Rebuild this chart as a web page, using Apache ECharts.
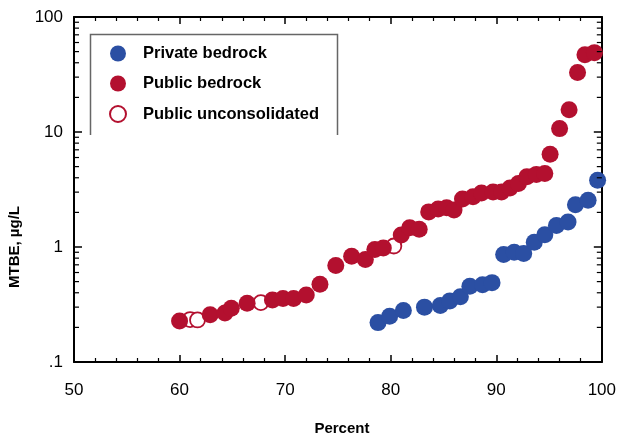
<!DOCTYPE html>
<html>
<head>
<meta charset="utf-8">
<script src="https://cdn.jsdelivr.net/npm/echarts@6/dist/echarts.min.js"></script>
<style>
  html, body { margin: 0; padding: 0; background: #fff; }
  #chart { width: 619px; height: 441px; }
</style>
</head>
<body>
<div id="chart"></div>
<script>
// ---- Data ----
const privateX = [78.8, 79.9, 81.2, 83.2, 84.7, 85.6, 86.6, 87.5, 88.7, 89.6, 90.7, 91.7, 92.6, 93.6, 94.6, 95.7, 96.8, 97.5, 98.7, 99.6];
const privateY = [0.22, 0.25, 0.28, 0.30, 0.31, 0.34, 0.37, 0.455, 0.47, 0.49, 0.86, 0.90, 0.88, 1.10, 1.28, 1.54, 1.65, 2.33, 2.55, 3.8];

const publicX = [60.0, 62.9, 64.3, 64.9, 66.4, 68.8, 69.8, 70.8, 72.0, 73.3, 74.8, 76.3, 77.6, 78.5, 79.3,
                 81.0, 81.8, 82.7, 83.6, 84.5, 85.3, 86.0, 86.8, 87.8, 88.6, 89.7, 90.5, 91.3, 92.1, 92.9,
                 93.8, 94.6, 95.1, 96.0, 96.9, 97.7, 98.4, 99.3];
const publicY = [0.227, 0.257, 0.267, 0.294, 0.324, 0.346, 0.357, 0.357, 0.382, 0.475, 0.69, 0.83, 0.78, 0.95, 0.98,
                 1.27, 1.47, 1.43, 2.02, 2.14, 2.19, 2.10, 2.62, 2.74, 2.95, 3.01, 3.01, 3.26, 3.56, 4.08,
                 4.28, 4.36, 6.4, 10.7, 15.6, 32.9, 47, 49];

const unconsX = [61.0, 61.7, 67.7, 80.3];
const unconsY = [0.234, 0.232, 0.328, 1.02];

const xTicks = [50, 60, 70, 80, 90, 100];
const yTickLabels = {0.1: '.1', 1: '1', 10: '10', 100: '100'};
const yMinorTicks = [0.2, 0.3, 0.4, 0.5, 0.6, 0.7, 0.8, 0.9,
                     2, 3, 4, 5, 6, 7, 8, 9,
                     20, 30, 40, 50, 60, 70, 80, 90];

const seriesNames = ['Private bedrock', 'Public bedrock', 'Public unconsolidated'];
const xTitle = 'Percent';
const yTitle = 'MTBE, µg/L';

// ---- Styles ----
const BLUE = '#2b4fa3';
const RED = '#b3102f';
const FONT = 'Liberation Sans, Arial, sans-serif';

const zip = (xs, ys) => xs.map((x, i) => [x, ys[i]]);

const chart = echarts.init(document.getElementById('chart'), null, { renderer: 'canvas' });

const axisLineStyle = { color: '#000', width: 2 };
const baseX = {
  type: 'value', min: xTicks[0], max: xTicks[xTicks.length - 1], interval: 10,
  axisLine: { show: true, onZero: false, lineStyle: axisLineStyle },
  axisTick: { show: true, inside: true, length: 7, lineStyle: { color: '#000', width: 1.5 } },
  minorTick: { show: true, splitNumber: 5, length: 4, lineStyle: { color: '#000', width: 1.2 } },
  splitLine: { show: false }
};
const baseY = {
  type: 'log', logBase: 10, min: 0.1, max: 100,
  axisLine: { show: true, onZero: false, lineStyle: axisLineStyle },
  axisTick: { show: true, inside: true, length: 8, lineStyle: { color: '#000', width: 1.5 } },
  minorTick: { show: false },
  splitLine: { show: false }
};

const option = {
  animation: false,
  backgroundColor: '#fff',
  textStyle: { fontFamily: FONT },
  grid: { left: 74, right: 17, top: 17, bottom: 69, containLabel: false },
  xAxis: [
    Object.assign({}, baseX, {
      position: 'bottom',
      name: xTitle, nameLocation: 'middle', nameGap: 59,
      nameTextStyle: { fontFamily: FONT, fontWeight: 'bold', fontSize: 15, color: '#000', padding: [0, 0, 0, 8] },
      axisLabel: { show: true, margin: 20, fontFamily: FONT, fontSize: 17, color: '#000' }
    }),
    Object.assign({}, baseX, { position: 'top', axisLabel: { show: false } })
  ],
  yAxis: [
    Object.assign({}, baseY, {
      position: 'left',
      axisLabel: {
        show: true, margin: 11, fontFamily: FONT, fontSize: 17, color: '#000',
        formatter: v => {
          for (const k in yTickLabels) { if (Math.abs(v - Number(k)) < 1e-9 * Number(k)) return yTickLabels[k]; }
          return '';
        }
      }
    }),
    Object.assign({}, baseY, { position: 'right', axisLabel: { show: false } })
  ],
  legend: {
    data: seriesNames,
    orient: 'vertical',
    left: 104, top: 40,
    itemWidth: 16, itemHeight: 16,
    itemGap: 13,
    icon: 'circle',
    selectedMode: false,
    textStyle: { fontFamily: FONT, fontWeight: 'bold', fontSize: 16.5, color: '#000', padding: [0, 0, 0, 12] }
  },
  graphic: [
    {
      type: 'polyline', silent: true, z: 10,
      shape: { points: [[90.5, 135], [90.5, 34.5], [337.5, 34.5], [337.5, 135]] },
      style: { stroke: '#666', lineWidth: 1.5, fill: null }
    },
    {
      type: 'text', silent: true, z: 10,
      x: 15, y: 247, rotation: Math.PI / 2,
      style: { text: yTitle, font: 'bold 15px ' + FONT, fill: '#000', align: 'center', verticalAlign: 'middle' }
    }
  ],
  series: [
    {
      name: seriesNames[2], type: 'scatter', z: 2,
      symbol: 'circle', symbolSize: 15,
      itemStyle: { color: '#fff', borderColor: RED, borderWidth: 1.8, opacity: 1 },
      data: zip(unconsX, unconsY)
    },
    {
      name: seriesNames[1], type: 'scatter', z: 3,
      symbol: 'circle', symbolSize: 17,
      itemStyle: { color: RED, opacity: 1 },
      data: zip(publicX, publicY)
    },
    {
      name: seriesNames[0], type: 'scatter', z: 3,
      symbol: 'circle', symbolSize: 17,
      itemStyle: { color: BLUE, opacity: 1 },
      data: zip(privateX, privateY)
    },
    {
      name: 'minorTicks', type: 'custom', silent: true, z: 5,
      renderItem: (params, api) => {
        const v = api.value(1);
        const pL = api.coord([xTicks[0], v]);
        const pR = api.coord([xTicks[xTicks.length - 1], v]);
        return {
          type: 'group',
          children: [
            { type: 'line', shape: { x1: pL[0], y1: pL[1], x2: pL[0] + 5, y2: pL[1] }, style: { stroke: '#000', lineWidth: 1.2 } },
            { type: 'line', shape: { x1: pR[0], y1: pR[1], x2: pR[0] - 5, y2: pR[1] }, style: { stroke: '#000', lineWidth: 1.2 } }
          ]
        };
      },
      data: yMinorTicks.map(v => [xTicks[0], v])
    }
  ]
};

chart.setOption(option);
</script>
</body>
</html>
